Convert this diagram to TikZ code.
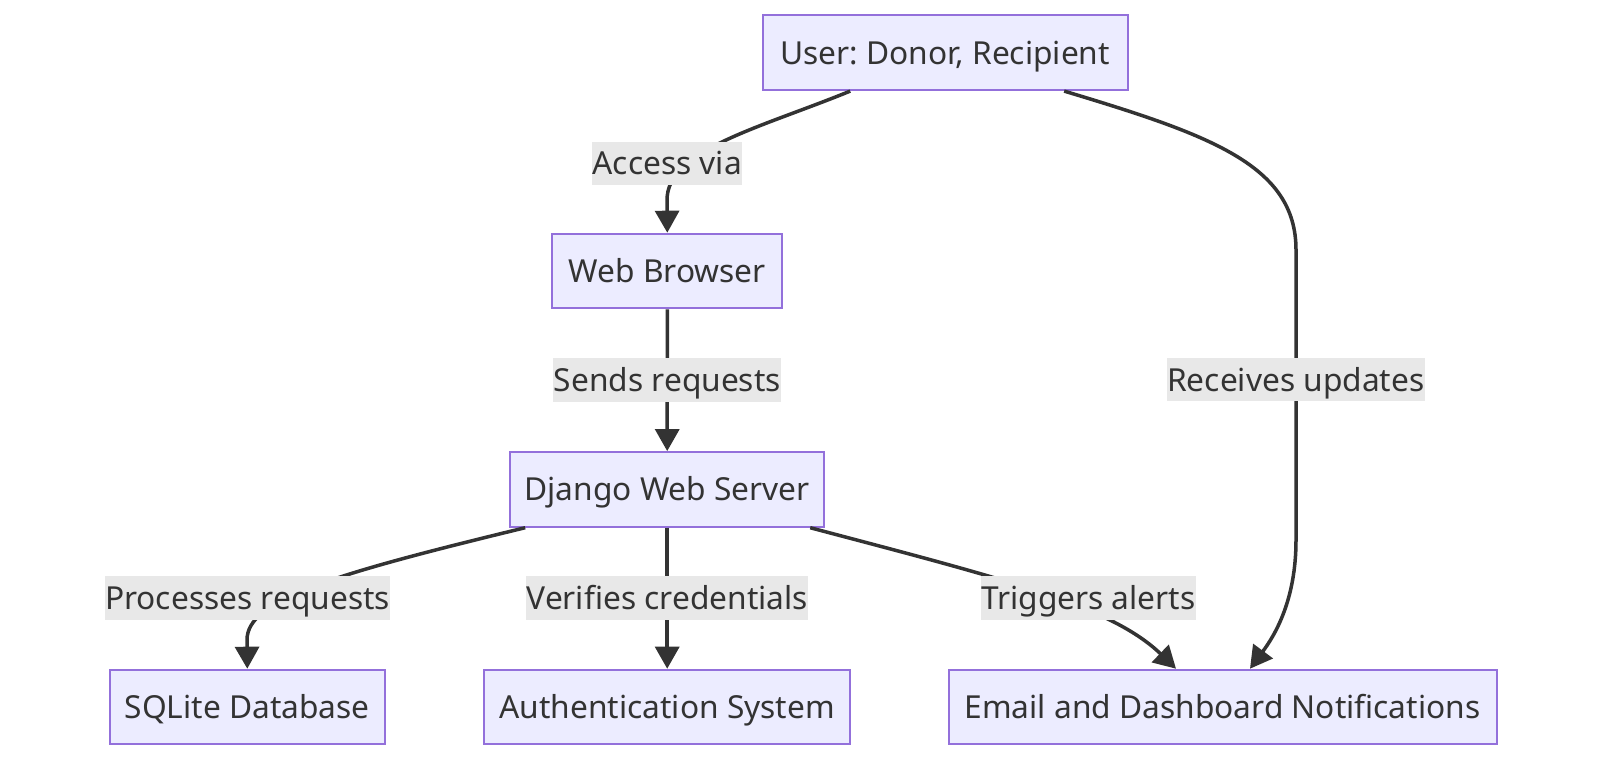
\documentclass[tikz,border=0pt]{standalone}
\usepackage{fontspec}
\setmainfont{Noto Sans}
\usetikzlibrary{arrows.meta,calc}
\definecolor{nodefill}{HTML}{ECECFF}
\definecolor{nodeline}{HTML}{9370DB}
\definecolor{edgecol}{HTML}{333333}
\definecolor{lblfill}{HTML}{E8E8E8}
\frenchspacing
\begin{document}
\begin{tikzpicture}[x=1pt,y=-1pt, font=\fontsize{31.7}{38}\selectfont, text=edgecol,
  box/.style={draw=nodeline, line width=2pt, fill=nodefill, minimum height=74.6pt, inner sep=0pt, text height=28pt, text depth=5pt},
  lbl/.style={fill=lblfill, inner xsep=0.5pt, inner ysep=0pt, minimum height=43.5pt, text height=28pt, text depth=5pt},
  edge/.style={draw=edgecol, line width=3.5pt, -{Triangle[length=22pt,width=24pt]}}]
\fill[white] (0,0) rectangle (1600,760);
\useasboundingbox (0,0) rectangle (1600,760);

\node[box, minimum width=365pt] (user) at (945.2,52.8) {User: Donor, Recipient};
\node[box, minimum width=230pt] (web) at (667.3,271) {Web Browser};
\node[box, minimum width=314.5pt] (django) at (667.2,489.4) {Django Web Server};
\node[box, minimum width=275pt] (db) at (247.3,707) {SQLite Database};
\node[box, minimum width=366pt] (auth) at (667.2,707) {Authentication System};
\node[box, minimum width=548pt] (notif) at (1222.5,707) {Email and Dashboard Notifications};

\draw[edge] ([xshift=-95pt]user.south) .. controls (760,128) and (667,150) .. (667,200) -- (web.north);
\draw[edge] ([xshift=119pt]user.south) .. controls (1210,135) and (1296,165) .. (1296,250) -- (1296,540) .. controls (1296,600) and (1275,635) .. ([xshift=27.5pt]notif.north);
\draw[edge] (web.south) -- (django.north);
\draw[edge] ([xshift=-142pt]django.south) .. controls (330,575) and (247,600) .. (247,640) -- (db.north);
\draw[edge] (django.south) -- (auth.north);
\draw[edge] ([xshift=143pt]django.south) .. controls (1000,578) and (1110,605) .. ([xshift=-46.5pt]notif.north);

\node[lbl] (l1) at (667.3,163.3) {Access via};
\node[lbl] (l2) at (667.3,380) {Sends requests};
\node[lbl] (l3) at (1295.8,379.7) {Receives updates};
\node[lbl] (l4) at (247.5,597.8) {Processes requests};
\node[lbl] (l5) at (667.2,597.8) {Verifies credentials};
\node[lbl] (l6) at (1088.4,597.8) {Triggers alerts};
\end{tikzpicture}
\end{document}
